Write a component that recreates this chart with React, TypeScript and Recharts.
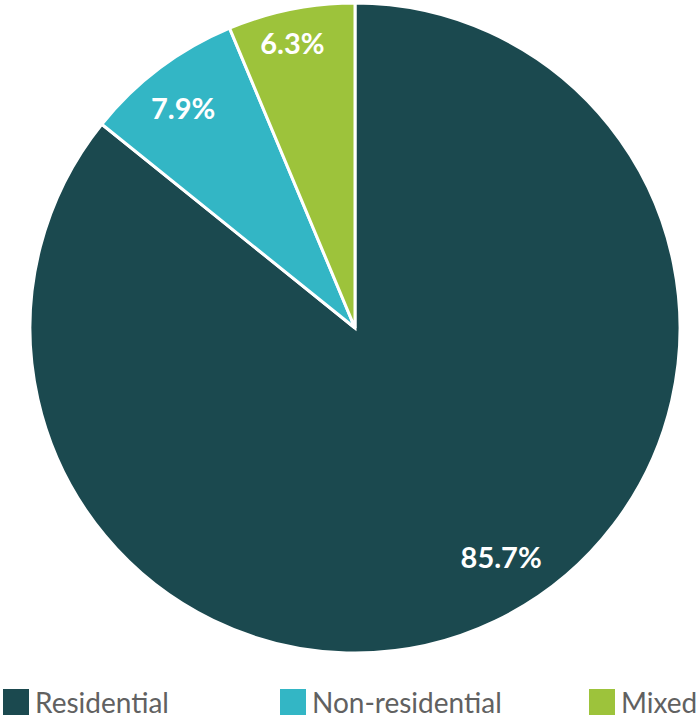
import React from "react";
import { Cell, Pie, PieChart } from "recharts";

const categories = ["Residential", "Non-residential", "Mixed"];
const shares = [85.7, 7.9, 6.3];
const colors = ["#1b494f", "#33b6c5", "#9dc33b"];

const data = categories.map((name, i) => ({ name, value: shares[i] }));

// label placement per slice: radius fraction and angle nudge (deg)
const labelRadius = [0.835, 0.86, 0.9];
const labelShift = [7, 1, 1];
// left edge of each legend entry
const legendLeft = [3, 280, 589];

const RADIAN = Math.PI / 180;

const renderLabel = (props: any) => {
  const { cx, cy, midAngle, outerRadius, value, index } = props;
  const r = outerRadius * labelRadius[index];
  const a = (midAngle + labelShift[index]) * RADIAN;
  const x = cx + r * Math.cos(-a);
  const y = cy + r * Math.sin(-a);
  return (
    <text
      x={x}
      y={y}
      fill="#ffffff"
      textAnchor="middle"
      dominantBaseline="central"
      fontFamily="Lato, 'Open Sans', sans-serif"
      fontWeight={700}
      fontSize={29}
    >
      {`${value}%`}
    </text>
  );
};

export default function App() {
  return (
    <div
      style={{
        position: "absolute",
        left: 0,
        top: 0,
        width: 700,
        height: 718,
        background: "#ffffff",
        fontFamily: "Lato, 'Open Sans', sans-serif",
        overflow: "hidden",
      }}
    >
      <PieChart width={700} height={670} margin={{ top: 0, right: 0, bottom: 0, left: 0 }}>
        <Pie
          data={data}
          dataKey="value"
          nameKey="name"
          cx={355}
          cy={328}
          outerRadius={325}
          startAngle={90}
          endAngle={-270}
          stroke="#ffffff"
          strokeWidth={3}
          label={renderLabel}
          labelLine={false}
          isAnimationActive={false}
        >
          {data.map((d, i) => (
            <Cell key={d.name} fill={colors[i]} />
          ))}
        </Pie>
      </PieChart>
      {categories.map((name, i) => (
        <div
          key={name}
          style={{
            position: "absolute",
            left: legendLeft[i],
            top: 689,
            height: 26,
            display: "flex",
            alignItems: "center",
            whiteSpace: "nowrap",
          }}
        >
          <span
            style={{
              display: "inline-block",
              width: 26,
              height: 26,
              background: colors[i],
              marginRight: 6,
            }}
          />
          <span style={{ fontSize: 28, color: "#616161", lineHeight: "26px" }}>
            {name}
          </span>
        </div>
      ))}
    </div>
  );
}
